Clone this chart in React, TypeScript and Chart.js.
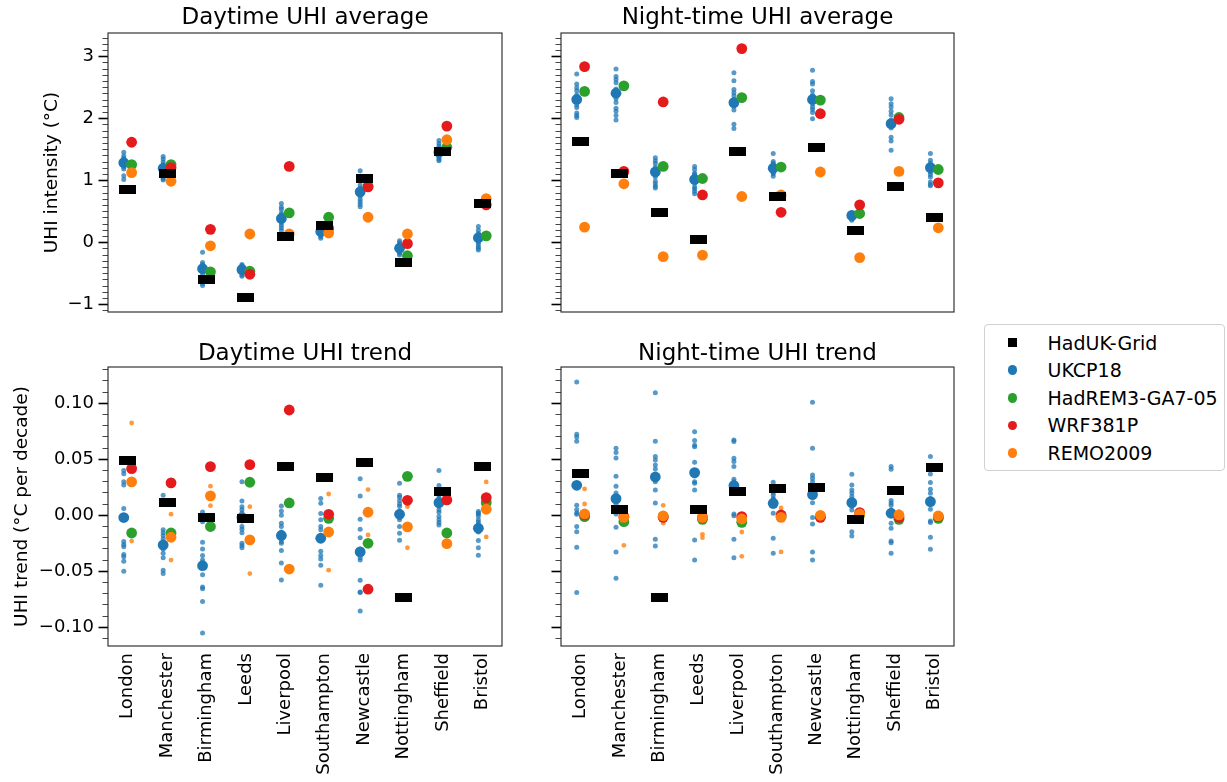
import React, { useEffect, useRef } from 'react';
import { Chart, registerables } from 'chart.js';

Chart.register(...registerables);
Chart.defaults.font.family = "'DejaVu Sans', sans-serif";
Chart.defaults.color = '#000';

// ---------------- Data ----------------
const cities = ['London', 'Manchester', 'Birmingham', 'Leeds', 'Liverpool', 'Southampton', 'Newcastle', 'Nottingham', 'Sheffield', 'Bristol'];
const legendLabels = ['HadUK-Grid', 'UKCP18', 'HadREM3-GA7-05', 'WRF381P', 'REMO2009'];

const avgTickValues = [-1, 0, 1, 2, 3];
const avgTickLabels = ['\u22121', '0', '1', '2', '3'];
const trendTickValues = [-0.1, -0.05, 0, 0.05, 0.1];
const trendTickLabels = ['\u22120.10', '\u22120.05', '0.00', '0.05', '0.10'];

// Daytime UHI average
const dayAvgHadUK = [0.85, 1.11, -0.59, -0.88, 0.1, 0.285, 1.03, -0.32, 1.47, 0.63];
const dayAvgUKCP18 = [1.29, 1.2, -0.42, -0.435, 0.39, 0.18, 0.82, -0.09, 1.46, 0.08];
const dayAvgHadREM = [1.26, 1.26, -0.47, -0.46, 0.48, 0.41, 0.91, -0.21, 1.54, 0.11];
const dayAvgWRF = [1.62, 1.21, 0.215, -0.51, 1.23, 0.23, 0.9, -0.016, 1.88, 0.61];
const dayAvgREMO = [1.13, 0.99, -0.05, 0.14, 0.14, 0.156, 0.41, 0.14, 1.66, 0.71];
const dayAvgUKCP18Members = [
  [1.46, 1.4, 1.36, 1.33, 1.3, 1.27, 1.25, 1.22, 1.19, 1.08, 1.02, 1.31],
  [1.39, 1.35, 1.3, 1.26, 1.22, 1.18, 1.15, 1.12, 1.09, 1.06, 1.03, 1.01],
  [-0.155, -0.32, -0.35, -0.38, -0.41, -0.44, -0.47, -0.52, -0.56, -0.62, -0.66, -0.69],
  [-0.35, -0.37, -0.4, -0.42, -0.44, -0.46, -0.49, -0.52, -0.54, -0.41, -0.43, -0.45],
  [0.63, 0.57, 0.54, 0.48, 0.44, 0.4, 0.36, 0.32, 0.28, 0.24, 0.2, 0.45],
  [0.28, 0.25, 0.23, 0.21, 0.19, 0.17, 0.15, 0.13, 0.12, 0.1, 0.07, 0.2],
  [1.16, 1.07, 1.0, 0.93, 0.88, 0.84, 0.8, 0.75, 0.7, 0.66, 0.62, 0.58],
  [0.03, 0.0, -0.03, -0.05, -0.07, -0.09, -0.11, -0.13, -0.15, -0.17, -0.2, -0.1],
  [1.65, 1.6, 1.56, 1.52, 1.49, 1.46, 1.43, 1.4, 1.37, 1.34, 1.32, 1.5],
  [0.26, 0.2, 0.15, 0.12, 0.1, 0.07, 0.04, 0.01, -0.02, -0.06, -0.09, -0.12],
];

// Night-time UHI average
const nightAvgHadUK = [1.64, 1.11, 0.48, 0.05, 1.475, 0.75, 1.54, 0.2, 0.9, 0.41];
const nightAvgUKCP18 = [2.31, 2.41, 1.14, 1.02, 2.26, 1.2, 2.31, 0.44, 1.92, 1.21];
const nightAvgHadREM = [2.44, 2.53, 1.23, 1.035, 2.34, 1.22, 2.3, 0.47, 2.02, 1.18];
const nightAvgWRF = [2.84, 1.15, 2.27, 0.77, 3.13, 0.49, 2.08, 0.61, 1.99, 0.965];
const nightAvgREMO = [0.25, 0.95, -0.225, -0.2, 0.745, 0.77, 1.14, -0.24, 1.15, 0.24];
const nightAvgUKCP18Members = [
  [2.72, 2.56, 2.5, 2.45, 2.38, 2.33, 2.28, 2.22, 2.18, 2.09, 2.05, 2.02],
  [2.8, 2.68, 2.63, 2.58, 2.48, 2.4, 2.32, 2.26, 2.17, 2.12, 2.05, 1.98],
  [1.37, 1.32, 1.28, 1.22, 1.18, 1.12, 1.06, 0.99, 0.95, 0.91, 0.88, 1.15],
  [1.23, 1.18, 1.12, 1.07, 1.02, 0.96, 0.87, 0.83, 0.79, 1.1, 0.98, 0.9],
  [2.74, 2.61, 2.47, 2.42, 2.37, 2.31, 2.22, 2.14, 1.91, 1.84, 2.28, 2.2],
  [1.44, 1.31, 1.26, 1.19, 1.15, 1.11, 1.07, 1.23, 1.17, 1.13, 1.28, 1.21],
  [2.78, 2.6, 2.56, 2.45, 2.38, 2.28, 2.19, 2.15, 2.1, 2.0, 2.24, 2.33],
  [0.48, 0.46, 0.44, 0.42, 0.4, 0.38, 0.36, 0.45, 0.43, 0.41, 0.39, 0.47],
  [2.32, 2.19, 2.12, 2.06, 1.98, 1.85, 1.7, 1.64, 1.49, 1.95, 1.9, 2.24],
  [1.44, 1.33, 1.28, 1.22, 1.14, 1.06, 0.98, 0.94, 0.92, 1.18, 1.1, 1.25],
];

// Daytime UHI trend
const dayTrendHadUK = [0.0488, 0.0113, -0.0018, -0.0033, 0.044, 0.0336, 0.0467, -0.0732, 0.0208, 0.0435];
const dayTrendUKCP18 = [-0.002, -0.0265, -0.045, -0.002, -0.018, -0.0205, -0.0327, 0.0009, 0.0113, -0.0116];
const dayTrendHadREM = [-0.0158, -0.0158, -0.01, 0.0295, 0.011, -0.0027, -0.025, 0.0348, -0.0158, 0.0113];
const dayTrendWRF = [0.0417, 0.029, 0.0435, 0.0452, 0.094, 0.0009, -0.066, 0.0134, 0.0137, 0.0158];
const dayTrendREMO = [0.0298, -0.0196, 0.0173, -0.022, -0.048, -0.0149, 0.0027, -0.0104, -0.0253, 0.0054];
const dayTrendREMOMembers = [
  [0.0824, -0.023], [0.001, -0.04], [0.026, 0.0086], [0.0077, -0.052], [-0.046, -0.049],
  [0.019, -0.049], [0.023, -0.0176], [0.0077, -0.029], [-0.024, -0.026], [0.0298, -0.0193],
];
const dayTrendUKCP18Members = [
  [0.04, 0.037, 0.03, 0.027, 0.006, -0.0235, -0.026, -0.028, -0.035, -0.037, -0.041, -0.05],
  [0.018, -0.013, -0.0155, -0.018, -0.021, -0.024, -0.027, -0.03, -0.034, -0.038, -0.049, -0.052],
  [0.003, -0.0057, -0.024, -0.03, -0.036, -0.043, -0.053, -0.064, -0.0655, -0.077, -0.105, -0.04],
  [0.03, 0.0128, 0.0077, 0.005, -0.01, -0.0125, -0.0155, -0.025, -0.027, -0.029, 0.002, -0.005],
  [0.0083, 0.0039, -0.007, -0.01, -0.0205, -0.0235, -0.0315, -0.0426, -0.0577, -0.015, -0.025, 0.0],
  [0.015, 0.0107, 0.0015, -0.01, -0.013, -0.022, -0.032, -0.036, -0.039, -0.0446, -0.0625, -0.004],
  [0.0327, 0.0173, -0.0036, -0.0125, -0.04, -0.058, -0.0685, -0.0854, -0.038, -0.069, -0.02, -0.03],
  [0.0286, 0.018, 0.016, 0.013, -0.004, -0.01, -0.016, -0.0223, 0.008, 0.004, -0.002, 0.01],
  [0.04, 0.0265, 0.022, 0.0027, -0.001, -0.004, -0.0065, -0.0086, 0.015, 0.008, 0.018, 0.005],
  [0.0033, 0.0012, -0.0006, -0.006, -0.0226, -0.029, -0.0357, -0.01, -0.015, 0.002, -0.004, -0.008],
];

// Night-time UHI trend
const nightTrendHadUK = [0.0369, 0.0054, -0.0732, 0.0054, 0.0208, 0.0238, 0.025, -0.0036, 0.022, 0.0429];
const nightTrendUKCP18 = [0.0268, 0.0149, 0.0342, 0.0381, 0.0265, 0.0107, 0.0185, 0.0113, 0.0018, 0.0122];
const nightTrendHadREM = [-0.0012, -0.0057, -0.001, -0.0036, -0.0063, -0.0012, -0.0012, 0.0, -0.0036, -0.0027];
const nightTrendWRF = [0.0003, -0.0012, -0.0018, -0.0018, -0.0012, 0.0003, -0.0018, 0.0024, -0.0018, -0.0012];
const nightTrendREMO = [0.0012, -0.0018, -0.0006, -0.0018, -0.0033, -0.0018, 0.0, 0.0012, 0.0003, -0.0006];
const nightTrendREMOMembers = [
  [0.0235, 0.0101], [-0.0268, -0.002], [0.0089, -0.007], [-0.017, -0.02], [-0.0149, -0.0366],
  [0.0065, -0.0327], [0.0, -0.002], [0.001, 0.0], [0.0033, -0.001], [0.0, -0.001],
];
const nightTrendUKCP18Members = [
  [0.119, 0.0723, 0.07, 0.066, 0.0089, 0.0009, -0.01, -0.0146, -0.0286, -0.069, 0.002, 0.005],
  [0.0598, 0.056, 0.0512, 0.0348, 0.0259, 0.0012, -0.0107, -0.0327, -0.0563, 0.02, 0.01, 0.005],
  [0.1095, 0.066, 0.0524, 0.0494, 0.0414, 0.0226, 0.011, -0.0214, -0.0274, 0.045, 0.03, 0.035],
  [0.0747, 0.0667, 0.0625, 0.0613, 0.0473, 0.0286, 0.0226, -0.022, -0.04, 0.04, 0.035, 0.03],
  [0.0673, 0.0658, 0.0509, 0.048, 0.0435, 0.0321, 0.0012, -0.0005, -0.0214, -0.038, 0.03, 0.028],
  [0.0295, 0.022, 0.018, 0.0018, -0.0205, -0.034, 0.012, 0.015, 0.008, 0.01, 0.02, 0.014],
  [0.1009, 0.0598, 0.036, 0.033, 0.03, 0.0113, -0.002, -0.0077, -0.0327, -0.04, 0.02, 0.025],
  [0.0366, 0.027, 0.0226, 0.02, 0.0167, 0.0048, -0.0146, -0.0185, 0.014, 0.008, 0.01, 0.012],
  [0.0435, 0.041, 0.0131, 0.011, 0.009, -0.0071, -0.0116, -0.0229, -0.0245, -0.034, 0.003, 0.005],
  [0.0524, 0.0369, 0.0292, 0.0232, 0.0196, 0.0054, -0.005, -0.0065, -0.0196, -0.0304, 0.015, 0.01],
];

// ---------------- Styles ----------------
const C_BLACK = '#000000';
const C_BLUE = '#1f77b4';
const C_GREEN = '#2ca02c';
const C_RED = '#e41a1c';
const C_ORANGE = '#ff7f0e';
const C_BLUE_SMALL = 'rgba(31,119,180,0.75)';
const C_ORANGE_SMALL = 'rgba(255,127,14,0.8)';
const legendColors = [C_BLACK, C_BLUE, C_GREEN, C_RED, C_ORANGE];
const OFF = 0.1;
const TITLE_SIZE = 23;
const TICK_SIZE = 18;
const YLABEL_SIZE = 18.5;
const LEGEND_SIZE = 19;

function minorTicks(lo: number, hi: number, div: number, majorEvery: number) {
  const out: number[] = [];
  for (let k = lo; k <= hi; k++) if (k % majorEvery !== 0) out.push(k / div);
  return out;
}

type Spec = {
  title: string; left: number; top: number; width: number; height: number;
  padLeft: number; padRight: number; padBottom: number; titlePadTop: number; titlePadBottom: number;
  yAxisWidth: number; xAxisHeight: number; yLabel: string; showYLabels: boolean; showXLabels: boolean;
  yMin: number; yMax: number; majorVals: number[]; majorLabels: string[]; minorVals: number[];
  hadUK: number[]; ukcp: number[]; hadrem: number[]; wrf: number[]; remo: number[];
  ukcpMembers: number[][]; remoMembers: number[][];
};

const pts = (vals: number[], off: number) => vals.map((v, i) => ({ x: i + off, y: v }));
const memberPts = (m: number[][], off: number) => m.flatMap((arr, i) => arr.map((v) => ({ x: i + off, y: v })));

let rectImg: HTMLCanvasElement | null = null;
function getRect() {
  if (!rectImg) {
    rectImg = document.createElement('canvas');
    rectImg.width = 17;
    rectImg.height = 9;
    const c = rectImg.getContext('2d')!;
    c.fillStyle = C_BLACK;
    c.fillRect(0, 0, 17, 9);
  }
  return rectImg;
}

const spinePlugin = {
  id: 'spines',
  afterDatasetsDraw(chart: any) {
    const { ctx, chartArea: a } = chart;
    ctx.save();
    ctx.strokeStyle = '#222';
    ctx.lineWidth = 1.1;
    ctx.strokeRect(a.left, a.top, a.right - a.left, a.bottom - a.top);
    ctx.restore();
  },
};

function circle(data: any[], color: string, r: number, order: number) {
  return { data, backgroundColor: color, borderColor: color, pointBackgroundColor: color, pointBorderWidth: 0, pointRadius: r, pointHoverRadius: r, order };
}

function buildConfig(s: Spec): any {
  return {
    type: 'scatter',
    data: {
      datasets: [
        { data: pts(s.hadUK, 0), pointStyle: getRect(), pointRadius: 9, pointHoverRadius: 9, pointBorderWidth: 0, order: 0 },
        circle(pts(s.remo, OFF), C_ORANGE, 5.4, 1),
        circle(pts(s.wrf, OFF), C_RED, 5.4, 2),
        circle(pts(s.hadrem, OFF), C_GREEN, 5.4, 3),
        circle(pts(s.ukcp, -OFF), C_BLUE, 5.4, 4),
        circle(memberPts(s.remoMembers, OFF), C_ORANGE_SMALL, 2.4, 5),
        circle(memberPts(s.ukcpMembers, -OFF), C_BLUE_SMALL, 2.5, 6),
      ],
    },
    options: {
      responsive: false,
      animation: false,
      events: [],
      layout: { padding: { left: s.padLeft, right: s.padRight, top: 0, bottom: s.padBottom } },
      plugins: {
        legend: { display: false },
        tooltip: { enabled: false },
        title: {
          display: true, text: s.title, fullSize: false, color: '#000',
          font: { size: TITLE_SIZE, weight: 'normal', lineHeight: 1.2 },
          padding: { top: s.titlePadTop, bottom: s.titlePadBottom },
        },
      },
      scales: {
        x: {
          type: 'linear', min: -0.5, max: 9.5, bounds: 'data',
          afterBuildTicks: (sc: any) => { sc.ticks = cities.map((_, i) => ({ value: i })); },
          ticks: {
            display: s.showXLabels, autoSkip: false, minRotation: 90, maxRotation: 90, padding: 7,
            font: { size: TICK_SIZE }, color: '#000', callback: (_v: any, i: number) => cities[i],
          },
          grid: { display: false, drawTicks: false },
          border: { display: false },
          afterFit: (sc: any) => { sc.height = s.xAxisHeight; },
        },
        y: {
          type: 'linear', position: 'left', weight: 1, min: s.yMin, max: s.yMax, bounds: 'data',
          afterBuildTicks: (sc: any) => { sc.ticks = s.majorVals.map((v) => ({ value: v })); },
          ticks: {
            autoSkip: false, padding: 4.5, font: { size: TICK_SIZE }, color: '#000',
            callback: (_v: any, i: number) => (s.showYLabels ? s.majorLabels[i] : ''),
          },
          grid: { drawOnChartArea: false, drawTicks: true, tickLength: 9.5, tickWidth: 1.6, tickColor: '#000' },
          border: { display: false },
          title: { display: s.yLabel !== '', text: s.yLabel, font: { size: YLABEL_SIZE, lineHeight: 1.2 }, padding: 0, color: '#000' },
          afterFit: (sc: any) => { sc.width = s.yAxisWidth; },
        },
        yMinor: {
          type: 'linear', position: 'left', weight: 0, min: s.yMin, max: s.yMax, bounds: 'data',
          afterBuildTicks: (sc: any) => { sc.ticks = s.minorVals.map((v) => ({ value: v })); },
          ticks: { display: false, autoSkip: false },
          grid: { drawOnChartArea: false, drawTicks: true, tickLength: 5.5, tickWidth: 1, tickColor: '#444' },
          border: { display: false },
          afterFit: (sc: any) => { sc.width = 0; },
        },
      },
    },
  };
}

const avgRange = { yMin: -1.118, yMax: 3.382, majorVals: avgTickValues, majorLabels: avgTickLabels, minorVals: minorTicks(-11, 33, 10, 10) };
const trendRange = { yMin: -0.1167, yMax: 0.1324, majorVals: trendTickValues, majorLabels: trendTickLabels, minorVals: minorTicks(-11, 13, 100, 5) };

const topLeft = { left: 0, top: 0, width: 520, height: 330, padLeft: 40.6, padRight: 18, padBottom: 18, titlePadTop: 4.5, titlePadBottom: 0.9, yAxisWidth: 67.4, xAxisHeight: 0, showYLabels: true, showXLabels: false };
const topRight = { left: 530, top: 0, width: 434, height: 330, padLeft: 0, padRight: 10, padBottom: 18, titlePadTop: 4.5, titlePadBottom: 0.9, yAxisWidth: 31, xAxisHeight: 0, showYLabels: false, showXLabels: false, yLabel: '' };
const botLeft = { left: 0, top: 330, width: 520, height: 452, padLeft: 11.4, padRight: 18, padBottom: 6, titlePadTop: 9.8, titlePadBottom: -0.4, yAxisWidth: 96.6, xAxisHeight: 130, showYLabels: true, showXLabels: true };
const botRight = { left: 530, top: 330, width: 434, height: 452, padLeft: 0, padRight: 10, padBottom: 6, titlePadTop: 9.8, titlePadBottom: -0.4, yAxisWidth: 31, xAxisHeight: 130, showYLabels: false, showXLabels: true, yLabel: '' };

const specs: Spec[] = [
  { ...topLeft, ...avgRange, title: 'Daytime UHI average', yLabel: 'UHI intensity (\u00b0C)', hadUK: dayAvgHadUK, ukcp: dayAvgUKCP18, hadrem: dayAvgHadREM, wrf: dayAvgWRF, remo: dayAvgREMO, ukcpMembers: dayAvgUKCP18Members, remoMembers: [] },
  { ...topRight, ...avgRange, title: 'Night-time UHI average', hadUK: nightAvgHadUK, ukcp: nightAvgUKCP18, hadrem: nightAvgHadREM, wrf: nightAvgWRF, remo: nightAvgREMO, ukcpMembers: nightAvgUKCP18Members, remoMembers: [] },
  { ...botLeft, ...trendRange, title: 'Daytime UHI trend', yLabel: 'UHI trend (\u00b0C per decade)', hadUK: dayTrendHadUK, ukcp: dayTrendUKCP18, hadrem: dayTrendHadREM, wrf: dayTrendWRF, remo: dayTrendREMO, ukcpMembers: dayTrendUKCP18Members, remoMembers: dayTrendREMOMembers },
  { ...botRight, ...trendRange, title: 'Night-time UHI trend', hadUK: nightTrendHadUK, ukcp: nightTrendUKCP18, hadrem: nightTrendHadREM, wrf: nightTrendWRF, remo: nightTrendREMO, ukcpMembers: nightTrendUKCP18Members, remoMembers: nightTrendREMOMembers },
] as Spec[];

function Panel({ spec }: { spec: Spec }) {
  const ref = useRef<HTMLCanvasElement>(null);
  useEffect(() => {
    const chart = new Chart(ref.current!, { ...buildConfig(spec), plugins: [spinePlugin] });
    return () => chart.destroy();
  }, [spec]);
  return (
    <canvas
      ref={ref}
      width={spec.width}
      height={spec.height}
      style={{ position: 'absolute', left: spec.left, top: spec.top, width: spec.width, height: spec.height }}
    />
  );
}

function Legend() {
  const rowY = [341.6, 369.2, 396.8, 424.4, 452];
  return (
    <div
      style={{
        position: 'absolute', left: 984, top: 324, width: 241, height: 147, boxSizing: 'border-box',
        border: '1px solid #d0d0d0', borderRadius: 4, background: 'rgba(255,255,255,0.8)',
      }}
    >
      {legendLabels.map((lab, i) => {
        const cy = rowY[i] - 324;
        const square = i === 0;
        const size = square ? 8.5 : 9.5;
        return (
          <React.Fragment key={lab}>
            <div
              style={{
                position: 'absolute', left: 1011.5 - 984 - size / 2, top: cy - size / 2, width: size, height: size,
                background: legendColors[i], borderRadius: square ? 0 : '50%',
              }}
            />
            <div
              style={{
                position: 'absolute', left: 1046.5 - 984, top: cy - 12, height: 24, lineHeight: '24px',
                fontFamily: "'DejaVu Sans', sans-serif", fontSize: LEGEND_SIZE, color: '#000', whiteSpace: 'nowrap',
              }}
            >
              {lab}
            </div>
          </React.Fragment>
        );
      })}
    </div>
  );
}

export default function App() {
  return (
    <div style={{ position: 'absolute', left: 0, top: 0, width: 1227, height: 782, background: '#fff', overflow: 'hidden' }}>
      {specs.map((s) => (
        <Panel key={s.title} spec={s} />
      ))}
      <Legend />
    </div>
  );
}
